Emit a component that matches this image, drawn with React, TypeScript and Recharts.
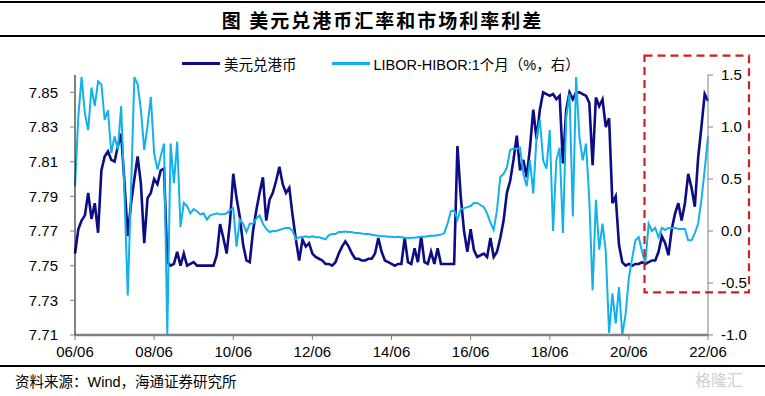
import { LineChart, Line, XAxis, YAxis } from "recharts";

// 美元兑港币, monthly from 2006-06 to 2022-06
const usdHkd = [
  7.757, 7.771, 7.776, 7.779, 7.792, 7.777, 7.786, 7.769, 7.805, 7.813, 7.816, 7.811,
  7.810, 7.819, 7.826, 7.798, 7.767, 7.786, 7.800, 7.813, 7.797, 7.763, 7.789, 7.792,
  7.800, 7.797, 7.805, 7.806, 7.752, 7.750, 7.751, 7.758, 7.750, 7.757, 7.750, 7.751,
  7.752, 7.750, 7.750, 7.750, 7.750, 7.750, 7.750, 7.756, 7.774, 7.766, 7.757, 7.775,
  7.803, 7.789, 7.778, 7.762, 7.753, 7.752, 7.770, 7.782, 7.792, 7.801, 7.776, 7.788,
  7.792, 7.799, 7.807, 7.797, 7.792, 7.795, 7.779, 7.765, 7.753, 7.765, 7.761, 7.763,
  7.757, 7.755, 7.754, 7.753, 7.751, 7.751, 7.750, 7.752, 7.757, 7.761, 7.764, 7.761,
  7.757, 7.754, 7.754, 7.753, 7.753, 7.754, 7.754, 7.757, 7.766, 7.758, 7.753, 7.752,
  7.751, 7.750, 7.751, 7.751, 7.766, 7.752, 7.751, 7.760, 7.752, 7.767, 7.752, 7.751,
  7.758, 7.751, 7.760, 7.751, 7.751, 7.751, 7.751, 7.751, 7.819, 7.790, 7.770, 7.758,
  7.771, 7.759, 7.755, 7.756, 7.757, 7.755, 7.766, 7.755, 7.758, 7.766, 7.776, 7.792,
  7.799, 7.811, 7.825, 7.805, 7.811, 7.801, 7.818, 7.840, 7.823, 7.840, 7.850, 7.849,
  7.848, 7.849, 7.846, 7.848, 7.809, 7.840, 7.850, 7.846, 7.850, 7.850, 7.849, 7.848,
  7.844, 7.808, 7.847, 7.842, 7.846, 7.830, 7.835, 7.786, 7.790, 7.762, 7.752, 7.750,
  7.751, 7.750, 7.751, 7.751, 7.752, 7.751, 7.752, 7.753, 7.753, 7.758, 7.767, 7.763,
  7.756, 7.771, 7.780, 7.786, 7.776, 7.786, 7.803, 7.795, 7.784, 7.812, 7.830, 7.849,
  7.845,
];

// LIBOR-HIBOR 1个月 (%), right axis
const liborHibor = [
  0.43, 1.10, 1.48, 1.13, 0.97, 1.38, 1.20, 1.44, 1.41, 1.07, 1.16, 0.75,
  0.91, 0.78, 1.20, 0.36, -0.62, 0.40, 1.48, 1.41, 1.16, 0.78, 1.01, 1.29,
  0.75, 0.59, 0.72, 0.84, -1.0, 0.84, 0.46, 0.86, 0.04, 0.27, 0.24, 0.17,
  0.21, 0.19, 0.16, 0.17, 0.11, 0.15, 0.16, 0.17, 0.16, 0.16, 0.17, 0.20,
  0.22, -0.15, 0.11, 0.07, -0.01, 0.07, 0.07, 0.12, 0.15, 0.07, 0.02, -0.01,
  0.0, 0.0, 0.01, 0.02, 0.03, 0.03, 0.0, -0.08, -0.06, -0.06, -0.05, -0.06,
  -0.05, -0.06, -0.06, -0.07, -0.08, -0.04, -0.03, -0.03, -0.01, -0.01, -0.005, -0.01,
  -0.01, -0.02, -0.02, -0.025, -0.03, -0.03, -0.035, -0.04, -0.045, -0.05, -0.05, -0.055,
  -0.055, -0.06, -0.055, -0.06, -0.065, -0.07, -0.065, -0.065, -0.06, -0.055, -0.055, -0.05,
  -0.045, -0.045, -0.04, -0.035, -0.02, 0.07, 0.19, 0.20, 0.11, 0.21, 0.22, 0.23,
  0.24, 0.27, 0.27, 0.25, 0.23, 0.17, 0.08, 0.01, 0.20, 0.52, 0.55, 0.61,
  0.78, 0.79, 0.79, 0.80, 0.55, 0.43, 0.68, 0.36, 0.90, 1.07, 0.68, 0.60,
  0.97, 0.0, 0.68, 0.80, -0.02, 1.10, 1.32, 0.14, 1.48, 0.90, 0.68, 0.84,
  0.30, -0.57, 0.30, -0.18, 0.07, -0.20, -0.98, -0.60, -0.89, -0.54, -1.0, -0.80,
  -0.45, -0.26, -0.09, -0.06, -0.20, -0.31, 0.07, 0.0, 0.03, -0.06, 0.03, 0.01,
  0.03, 0.03, 0.03, 0.02, 0.02, 0.02, -0.09, -0.09, -0.02, 0.07, 0.30, 0.59,
  0.91,
];

const xTicks = [0, 24, 48, 72, 96, 120, 144, 168, 192];
const xTickLabels = ["06/06", "08/06", "10/06", "12/06", "14/06", "16/06", "18/06", "20/06", "22/06"];
const leftTicks = [7.71, 7.73, 7.75, 7.77, 7.79, 7.81, 7.83, 7.85];
const rightTicks = [-1.0, -0.5, 0.0, 0.5, 1.0, 1.5];

const data = usdHkd.map((v, i) => ({ m: i, usdHkd: v, spread: liborHibor[i] }));

const NAVY = "#0c0c84";
const SKY = "#12b1ec";
const LATIN = "'Liberation Sans', Arial, sans-serif";
const CJK = "'Liberation Sans', Arial, 'Noto Sans CJK SC', sans-serif";

const tickStyle = { fontSize: 15, fontFamily: LATIN, fill: "#000" };

export default function App() {
  return (
    <div
      style={{
        position: "absolute",
        left: 0,
        top: 0,
        width: 765,
        height: 396,
        background: "#fff",
        overflow: "hidden",
      }}
    >
      <div style={{ position: "absolute", left: 0, top: 1, width: 765, height: 2, background: "#000" }} />
      <div
        style={{
          position: "absolute",
          left: 0,
          top: 7,
          width: 765,
          textAlign: "center",
          fontFamily: "'Noto Sans CJK SC', sans-serif",
          fontWeight: 700,
          fontSize: 19,
          letterSpacing: 2,
          lineHeight: "26px",
          color: "#000",
        }}
      >
        图 美元兑港币汇率和市场利率利差
      </div>
      <div style={{ position: "absolute", left: 0, top: 35, width: 765, height: 2, background: "#000" }} />

      <LineChart
        width={765}
        height={396}
        data={data}
        margin={{ top: 75, right: 7, bottom: 31, left: 0 }}
        style={{ position: "absolute", left: 0, top: 0 }}
      >
        <XAxis
          dataKey="m"
          type="number"
          domain={[0, 192]}
          ticks={xTicks}
          tickFormatter={(v: number) => xTickLabels[xTicks.indexOf(v)] ?? ""}
          tick={tickStyle}
          axisLine={{ stroke: "#808080", strokeWidth: 2.5 }}
          tickLine={{ stroke: "#808080" }}
          tickSize={5}
          tickMargin={6}
          height={30}
          interval={0}
        />
        <YAxis
          yAxisId="left"
          domain={[7.71, 7.86]}
          ticks={leftTicks}
          tickFormatter={(v: number) => v.toFixed(2)}
          tick={tickStyle}
          axisLine={{ stroke: "#000" }}
          tickLine={{ stroke: "#808080" }}
          tickSize={5}
          tickMargin={12}
          width={75}
          interval={0}
          allowDataOverflow
        />
        <YAxis
          yAxisId="right"
          orientation="right"
          domain={[-1, 1.5]}
          ticks={rightTicks}
          tickFormatter={(v: number) => v.toFixed(1)}
          tick={tickStyle}
          axisLine={{ stroke: "#808080" }}
          tickLine={{ stroke: "#808080" }}
          tickSize={5}
          tickMargin={8}
          width={50}
          interval={0}
          allowDataOverflow
        />
        <Line
          yAxisId="left"
          type="linear"
          dataKey="usdHkd"
          stroke={NAVY}
          strokeWidth={2.6}
          dot={false}
          isAnimationActive={false}
        />
        <Line
          yAxisId="right"
          type="linear"
          dataKey="spread"
          stroke={SKY}
          strokeWidth={2}
          dot={false}
          isAnimationActive={false}
        />
      </LineChart>

      {/* legend */}
      <div
        style={{
          position: "absolute",
          left: 182,
          top: 54,
          height: 18,
          display: "flex",
          alignItems: "center",
          fontFamily: CJK,
          fontSize: 14.5,
          color: "#000",
          whiteSpace: "nowrap",
        }}
      >
        <span style={{ display: "inline-block", width: 38, height: 3, background: NAVY, marginRight: 4 }} />
        <span>美元兑港币</span>
        <span style={{ display: "inline-block", width: 38, height: 3, background: SKY, marginLeft: 35, marginRight: 4 }} />
        <span>LIBOR-HIBOR:1个月（%，右）</span>
      </div>

      <svg
        width={765}
        height={396}
        style={{ position: "absolute", left: 0, top: 0, pointerEvents: "none" }}
      >
        <rect
          x={644.5}
          y={55.7}
          width={104.5}
          height={236.6}
          fill="none"
          stroke="#d21f1f"
          strokeWidth={2.2}
          strokeDasharray="8 5"
        />
      </svg>

      <div style={{ position: "absolute", left: 0, top: 365, width: 765, height: 2, background: "#000" }} />
      <div
        style={{
          position: "absolute",
          left: 15,
          top: 372,
          fontFamily: CJK,
          fontSize: 14.5,
          lineHeight: "20px",
          color: "#000",
          whiteSpace: "nowrap",
        }}
      >
        资料来源：Wind，海通证券研究所
      </div>
      <div
        style={{
          position: "absolute",
          left: 695,
          top: 369,
          fontFamily: "'Noto Sans CJK SC', sans-serif",
          fontSize: 16,
          lineHeight: "20px",
          color: "#cfcfcf",
          whiteSpace: "nowrap",
        }}
      >
        格隆汇
      </div>
    </div>
  );
}
